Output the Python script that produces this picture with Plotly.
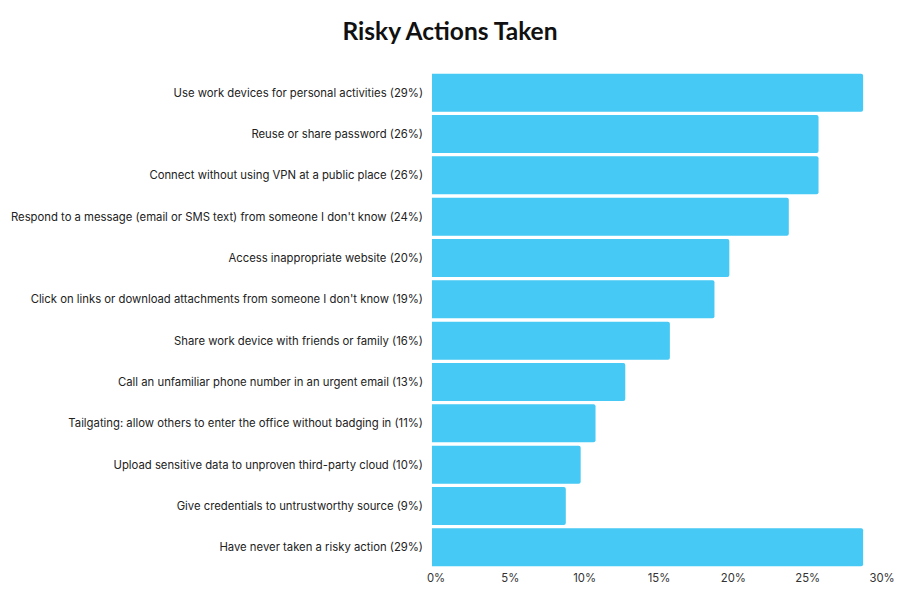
import plotly.graph_objects as go

categories = [
    "Use work devices for personal activities (29%)",
    "Reuse or share password (26%)",
    "Connect without using VPN at a public place (26%)",
    "Respond to a message (email or SMS text) from someone I don't know (24%)",
    "Access inappropriate website (20%)",
    "Click on links or download attachments from someone I don't know (19%)",
    "Share work device with friends or family (16%)",
    "Call an unfamiliar phone number in an urgent email (13%)",
    "Tailgating: allow others to enter the office without badging in (11%)",
    "Upload sensitive data to unproven third-party cloud (10%)",
    "Give credentials to untrustworthy source (9%)",
    "Have never taken a risky action (29%)",
]
values = [29, 26, 26, 24, 20, 19, 16, 13, 11, 10, 9, 29]
tick_vals = [0, 5, 10, 15, 20, 25, 30]
tick_text = ["0%", "5%", "10%", "15%", "20%", "25%", "30%"]

fig = go.Figure(go.Bar(
    y=categories, x=values, orientation="h",
    marker=dict(color="#46C9F4", line=dict(width=0), cornerradius=2),
    hoverinfo="skip",
))

fig.update_layout(
    width=900, height=600,
    paper_bgcolor="white", plot_bgcolor="white",
    margin=dict(l=432, r=22, t=72, b=32),
    bargap=0.08,
    showlegend=False,
    title=dict(text="<b>Risky Actions Taken</b>", x=0.5, xanchor="center",
               y=0.948, yanchor="middle",
               font=dict(family="Lato", size=24.5, color="#111111")),
    font=dict(family="Inter", size=11.3, color="#222222"),
)
fig.update_yaxes(autorange="reversed", showgrid=False, zeroline=False,
                 ticks="", ticklabelstandoff=8, automargin=False,
                 tickfont=dict(family="Inter", size=11.3, color="#222222"))
fig.update_xaxes(range=[0, 30], tickvals=tick_vals, ticktext=tick_text,
                 showgrid=False, zeroline=False, showline=False, ticks="",
                 ticklabelstandoff=2, ticklabelshift=4, automargin=False,
                 tickfont=dict(family="Inter", size=11.3, color="#333333"))

fig.write_html("out.html", config={"displayModeBar": False},
               post_script="document.body.style.margin='0px';")
